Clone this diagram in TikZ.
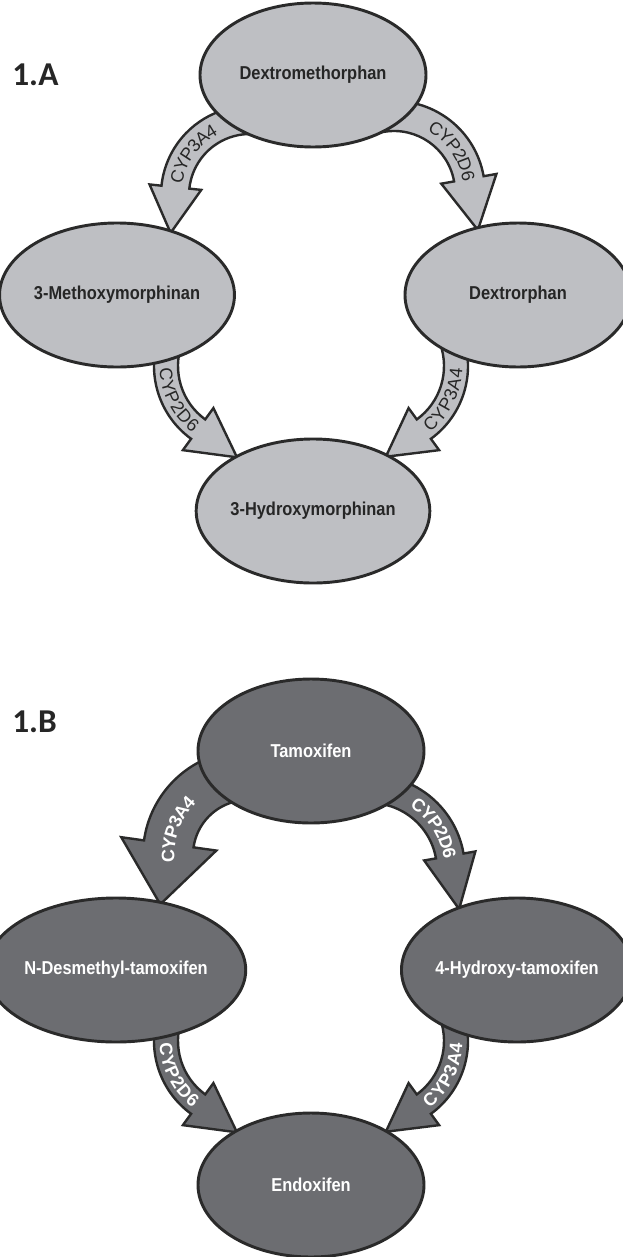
\documentclass[tikz,border=0pt]{standalone}
\usepackage{fontspec}
\setmainfont{Liberation Sans}
\newfontfamily\metsans{Liberation Sans}[FakeStretch=0.88]
\newfontfamily\tagsans{Carlito}
\usetikzlibrary{shapes.geometric,calc,decorations.text,backgrounds}
\definecolor{fillA}{HTML}{BEBFC3}
\definecolor{fillB}{HTML}{6C6D71}
\definecolor{edgegray}{HTML}{2A2A2A}
\definecolor{inkdark}{HTML}{262626}
\newcommand{\metfont}{\metsans\fontsize{14}{16}\selectfont\bfseries}
\newcommand{\tagfont}{\tagsans\fontsize{25}{28}\selectfont\bfseries}
\newcommand{\cypfontA}{\fontsize{13.5}{15}\selectfont}
\newcommand{\cypfontB}{\fontsize{13.5}{15}\selectfont\bfseries}
% curved block arrow: style, centre, radius, width, from, to, head half width, head length
\newcommand{\metabarrow}[8]{%
  \pgfmathsetmacro\bro{#3+#4/2}%
  \pgfmathsetmacro\bri{#3-#4/2}%
  \pgfmathsetmacro\bho{#3+#7}%
  \pgfmathsetmacro\bhi{#3-#7}%
  \pgfmathsetmacro\btan{#6+90*sign(#6-#5)}%
  \draw[#1] ($(#2)+(#5:\bro)$) arc[start angle=#5, end angle=#6, radius=\bro]
    -- ($(#2)+(#6:\bho)$) -- ($(#2)+(#6:#3)+(\btan:#8)$)
    -- ($(#2)+(#6:\bhi)$) -- ($(#2)+(#6:\bri)$)
    arc[start angle=#6, end angle=#5, radius=\bri] -- cycle;}
% enzyme name along the arrow: font, colour, centre, radius, from, to, text
\newcommand{\cyplabel}[7]{%
  \path[decorate, decoration={text along path, text={|#1|#7}, text color=#2,
    text align=center, raise=-4.8pt}]
    ($(#3)+(#5:#4)$) arc[start angle=#5, end angle=#6, radius=#4];}
\begin{document}
\begin{tikzpicture}[x=0.75pt, y=0.75pt,
  metA/.style={ellipse, draw=edgegray, line width=2.2pt, fill=fillA, text=inkdark,
    minimum width=169.5pt, minimum height=108pt, inner sep=0pt, font=\metfont},
  metB/.style={metA, fill=fillB, text=white},
  bandA/.style={draw=edgegray, line width=1.8pt, fill=fillA},
  bandB/.style={bandA, fill=fillB},
  tag/.style={anchor=west, inner sep=0pt, font=\tagfont, text=inkdark}]
\useasboundingbox (0,0) rectangle (623,-1257);
% 1.A dextromethorphan
\node[tag] (tagA) at (12,-75) {1.A};
\node[metA] (dxm) at (313,-75) {Dextromethorphan};
\node[metA] (mem) at (117,-295) {3-Methoxymorphinan};
\node[metA] (dxo) at (518,-295) {Dextrorphan};
\node[metA] (hym) at (313,-511) {3-Hydroxymorphinan};
\coordinate (ca1) at ($(dxm)+(-63,-120)$);
\coordinate (ca2) at ($(dxm)+(81,-117)$);
\coordinate (ca3) at ($(mem)+(127,-71)$);
\coordinate (ca4) at ($(dxo)+(-140,-71)$);
% 1.B tamoxifen
\node[tag] (tagB) at (12,-722) {1.B};
\node[metB] (tam) at (311,-751) {Tamoxifen};
\node[metB] (ndm) at (116,-970) {N-Desmethyl-tamoxifen};
\node[metB] (hyt) at (517,-970) {4-Hydroxy-tamoxifen};
\node[metB] (edx) at (311,-1185) {Endoxifen};
\coordinate (cb1) at ($(tam)+(-63,-104)$);
\coordinate (cb2) at ($(tam)+(59,-119)$);
\coordinate (cb3) at ($(ndm)+(128,-71)$);
\coordinate (cb4) at ($(hyt)+(-139,-71)$);
\begin{scope}[on background layer]
\metabarrow{bandA}{ca1}{75}{28}{80}{174}{26}{46}
\metabarrow{bandA}{ca2}{76}{30}{100}{10}{28}{52}
\metabarrow{bandA}{ca3}{78}{24}{160}{234}{26}{48}
\metabarrow{bandA}{ca4}{78}{24}{20}{-54}{26}{47}
\cyplabel{\cypfontA}{inkdark}{ca1}{75}{178}{110}{CYP3A4}
\cyplabel{\cypfontA}{inkdark}{ca2}{76}{64}{6}{CYP2D6}
\cyplabel{\cypfontA}{inkdark}{ca3}{78}{178}{236}{CYP2D6}
\cyplabel{\cypfontA}{inkdark}{ca4}{78}{-56}{2}{CYP3A4}
\metabarrow{bandB}{cb1}{80}{50}{100}{172}{48}{61}
\metabarrow{bandB}{cb2}{81}{28}{95}{10}{26}{54}
\metabarrow{bandB}{cb3}{78}{24}{160}{234}{26}{48}
\metabarrow{bandB}{cb4}{78}{24}{20}{-54}{26}{47}
\cyplabel{\cypfontB}{white}{cb1}{80}{187}{133}{CYP3A4}
\cyplabel{\cypfontB}{white}{cb2}{81}{60}{6}{CYP2D6}
\cyplabel{\cypfontB}{white}{cb3}{78}{178}{236}{CYP2D6}
\cyplabel{\cypfontB}{white}{cb4}{78}{-56}{2}{CYP3A4}
\end{scope}
\end{tikzpicture}
\end{document}
